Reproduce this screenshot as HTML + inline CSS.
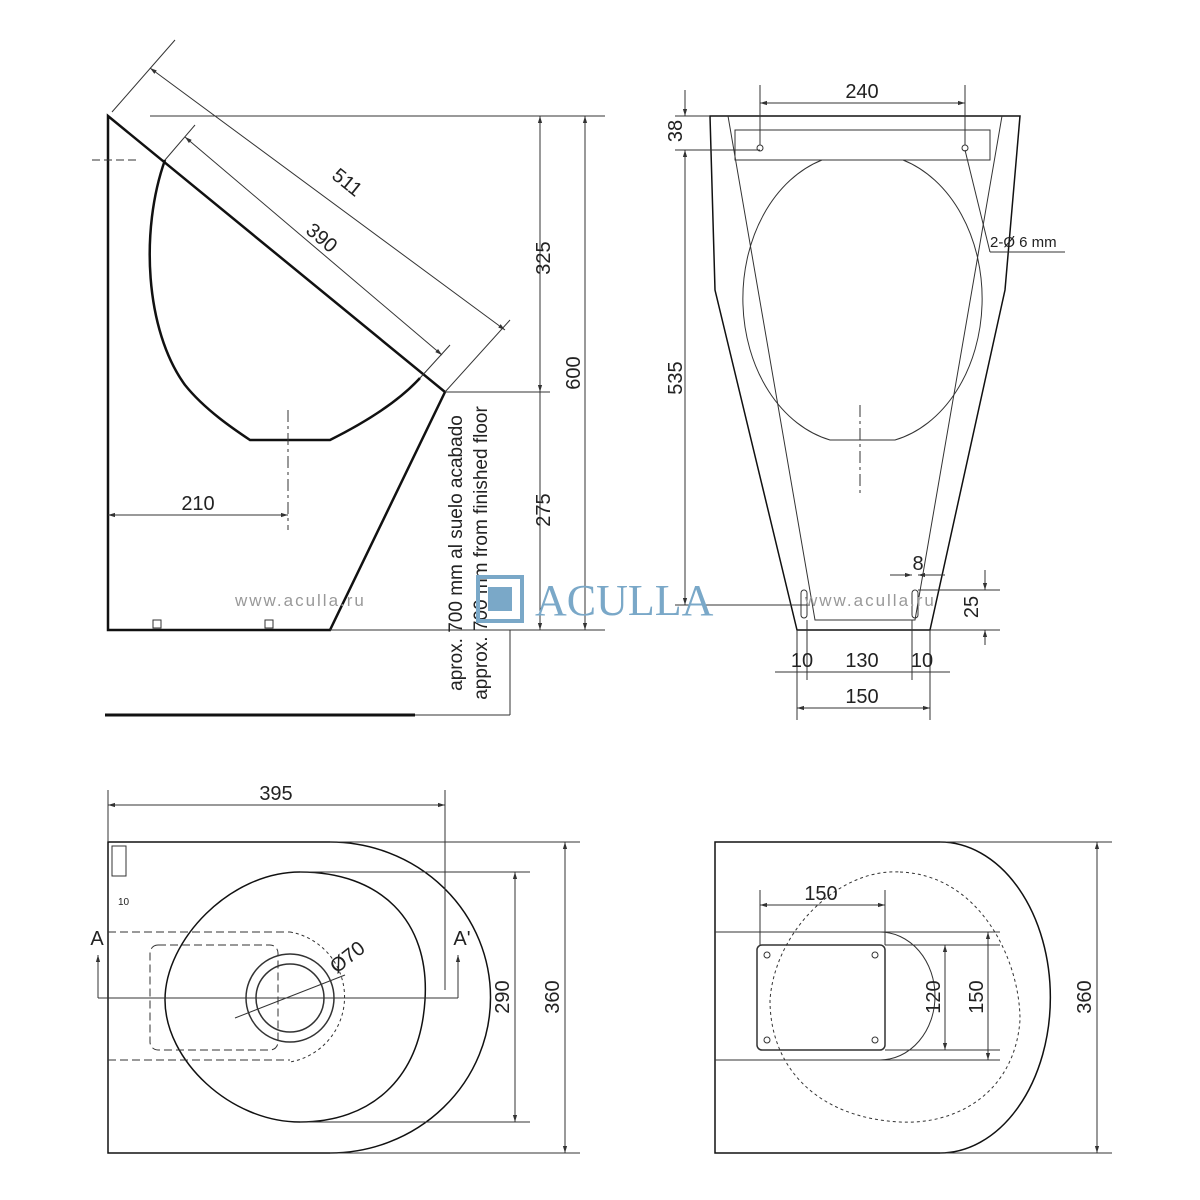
<!DOCTYPE html>
<html><head><meta charset="utf-8"><style>
html,body{margin:0;padding:0;background:#fff;}
svg{display:block;}
text{font-family:"Liberation Sans",sans-serif;fill:#222;}
</style></head><body>
<svg width="1200" height="1200" viewBox="0 0 1200 1200" xmlns="http://www.w3.org/2000/svg">
<defs>
<marker id="ar" viewBox="0 0 10 10" refX="10" refY="5" markerWidth="7" markerHeight="7" orient="auto-start-reverse"><path d="M0,2 L10,5 L0,8 z" fill="#333"/></marker>
</defs>
<g stroke="#333" stroke-width="1" fill="none">
<!-- SIDE VIEW -->
<path d="M108,116 L445,392 L330,630 L108,630 Z" stroke="#111" stroke-width="2.5"/>
<path d="M165,160 C140,230 145,330 185,385 C205,410 235,430 250,440 L330,440 C370,420 400,400 420,378" stroke="#111" stroke-width="2.5"/>
<line x1="92" y1="160" x2="140" y2="160" stroke-dasharray="8,4"/>
<line x1="288" y1="410" x2="288" y2="530" stroke-dasharray="12,4,3,4"/>
<line x1="112" y1="112" x2="175" y2="40"/>
<line x1="445" y1="392" x2="510" y2="320"/>
<line x1="150" y1="68" x2="505" y2="330" marker-start="url(#ar)" marker-end="url(#ar)"/>
<line x1="165" y1="160" x2="195" y2="125"/>
<line x1="420" y1="378" x2="450" y2="345"/>
<line x1="185" y1="137" x2="442" y2="355" marker-start="url(#ar)" marker-end="url(#ar)"/>
<line x1="150" y1="116" x2="605" y2="116"/>
<line x1="445" y1="392" x2="550" y2="392"/>
<line x1="330" y1="630" x2="605" y2="630"/>
<line x1="540" y1="116" x2="540" y2="392" marker-start="url(#ar)" marker-end="url(#ar)"/>
<line x1="540" y1="392" x2="540" y2="630" marker-end="url(#ar)"/>
<line x1="585" y1="116" x2="585" y2="630" marker-start="url(#ar)" marker-end="url(#ar)"/>
<line x1="108" y1="515" x2="288" y2="515" marker-start="url(#ar)" marker-end="url(#ar)"/>
<line x1="105" y1="715" x2="415" y2="715" stroke="#111" stroke-width="3"/>
<line x1="415" y1="715" x2="510" y2="715"/>
<line x1="510" y1="630" x2="510" y2="715"/>
<rect x="153" y="620" width="8" height="8"/><rect x="265" y="620" width="8" height="8"/>
<!-- FRONT VIEW -->
<path d="M710,116 L1020,116 L1005,290 L930,630 L797,630 L715,290 Z" stroke="#111" stroke-width="1.5"/>
<path d="M728,116 L815,620 L915,620 L1002,116"/>
<rect x="735" y="130" width="255" height="30"/>
<path d="M822,160 A112,145 0 0 0 830,440 L895,440 A112,145 0 0 0 903,160"/>
<line x1="860" y1="405" x2="860" y2="495" stroke-dasharray="12,4,3,4"/>
<circle cx="760" cy="148" r="3"/><circle cx="965" cy="148" r="3"/>
<line x1="760" y1="85" x2="760" y2="145"/><line x1="965" y1="85" x2="965" y2="145"/>
<line x1="760" y1="103" x2="965" y2="103" marker-start="url(#ar)" marker-end="url(#ar)"/>
<line x1="675" y1="116" x2="710" y2="116"/>
<line x1="675" y1="150" x2="760" y2="150"/>
<line x1="685" y1="90" x2="685" y2="116" marker-end="url(#ar)"/>
<line x1="685" y1="150" x2="685" y2="605" marker-start="url(#ar)" marker-end="url(#ar)"/>
<line x1="675" y1="605" x2="810" y2="605"/>
<line x1="965" y1="150" x2="990" y2="252"/><line x1="990" y1="252" x2="1065" y2="252"/>
<rect x="801" y="590" width="6" height="28" rx="3"/><rect x="912" y="590" width="6" height="28" rx="3"/>
<line x1="890" y1="575" x2="912" y2="575" marker-end="url(#ar)"/>
<line x1="918" y1="575" x2="945" y2="575" marker-start="url(#ar)"/>
<line x1="918" y1="590" x2="1000" y2="590"/><line x1="930" y1="630" x2="1000" y2="630"/>
<line x1="985" y1="570" x2="985" y2="590" marker-end="url(#ar)"/>
<line x1="985" y1="630" x2="985" y2="645" marker-start="url(#ar)"/>
<line x1="797" y1="630" x2="797" y2="720"/><line x1="807" y1="620" x2="807" y2="680"/>
<line x1="912" y1="620" x2="912" y2="680"/><line x1="930" y1="630" x2="930" y2="720"/>
<line x1="775" y1="672" x2="950" y2="672"/>
<line x1="797" y1="708" x2="930" y2="708" marker-start="url(#ar)" marker-end="url(#ar)"/>
<!-- PLAN LEFT -->
<path d="M108,842 L330,842 A160,155 0 0 1 330,1153 L108,1153 Z" stroke="#111" stroke-width="1.5"/>
<path d="M300,872 C380,872 430,920 425,1000 C420,1080 370,1122 300,1122 C230,1122 165,1060 165,1000 C165,940 230,872 300,872 Z" stroke="#111" stroke-width="1.5"/>
<circle cx="290" cy="998" r="44" stroke-width="1.5"/><circle cx="290" cy="998" r="34" stroke-width="1.5"/>
<rect x="150" y="945" width="128" height="105" rx="8" stroke-dasharray="8,4"/>
<line x1="108" y1="932" x2="290" y2="932" stroke-dasharray="8,4"/>
<line x1="108" y1="1060" x2="290" y2="1060" stroke-dasharray="8,4"/>
<path d="M290,932 A66,66 0 0 1 290,1062" stroke-dasharray="3,3"/>
<line x1="98" y1="998" x2="458" y2="998"/>
<line x1="98" y1="998" x2="98" y2="955" marker-end="url(#ar)"/>
<line x1="458" y1="998" x2="458" y2="955" marker-end="url(#ar)"/>
<line x1="235" y1="1018" x2="345" y2="975"/>
<line x1="108" y1="790" x2="108" y2="842"/><line x1="445" y1="790" x2="445" y2="990"/>
<line x1="108" y1="805" x2="445" y2="805" marker-start="url(#ar)" marker-end="url(#ar)"/>
<line x1="330" y1="842" x2="580" y2="842"/><line x1="330" y1="1153" x2="580" y2="1153"/>
<line x1="300" y1="872" x2="530" y2="872"/><line x1="300" y1="1122" x2="530" y2="1122"/>
<line x1="565" y1="842" x2="565" y2="1153" marker-start="url(#ar)" marker-end="url(#ar)"/>
<line x1="515" y1="872" x2="515" y2="1122" marker-start="url(#ar)" marker-end="url(#ar)"/>
<rect x="112" y="846" width="14" height="30"/>
<!-- PLAN RIGHT -->
<path d="M715,842 L940,842 A110,155 0 0 1 940,1153 L715,1153 Z" stroke="#111" stroke-width="1.5"/>
<path d="M715,932 L880,932 A55,64 0 0 1 880,1060 L715,1060"/>
<rect x="757" y="945" width="128" height="105" rx="5" stroke-width="1.5"/>
<circle cx="767" cy="955" r="3"/><circle cx="875" cy="955" r="3"/><circle cx="767" cy="1040" r="3"/><circle cx="875" cy="1040" r="3"/>
<path d="M900,872 C980,875 1020,960 1020,1020 C1015,1090 960,1125 900,1122 C820,1118 770,1070 770,1000 C775,930 840,868 900,872 Z" stroke-dasharray="3,3"/>
<line x1="760" y1="890" x2="760" y2="945"/><line x1="885" y1="890" x2="885" y2="945"/>
<line x1="760" y1="905" x2="885" y2="905" marker-start="url(#ar)" marker-end="url(#ar)"/>
<line x1="885" y1="945" x2="1000" y2="945"/><line x1="885" y1="1050" x2="1000" y2="1050"/>
<line x1="880" y1="932" x2="1000" y2="932"/><line x1="880" y1="1060" x2="1000" y2="1060"/>
<line x1="945" y1="945" x2="945" y2="1050" marker-start="url(#ar)" marker-end="url(#ar)"/>
<line x1="988" y1="932" x2="988" y2="1060" marker-start="url(#ar)" marker-end="url(#ar)"/>
<line x1="940" y1="842" x2="1112" y2="842"/><line x1="940" y1="1153" x2="1112" y2="1153"/>
<line x1="1097" y1="842" x2="1097" y2="1153" marker-start="url(#ar)" marker-end="url(#ar)"/>
</g>
<g font-size="20">
<text x="328" y="185" transform="rotate(39 340 185)">511</text>
<text x="300" y="245" transform="rotate(40 320 245)">390</text>
<text x="550" y="258" transform="rotate(-90 550 258)" text-anchor="middle">325</text>
<text x="550" y="510" transform="rotate(-90 550 510)" text-anchor="middle">275</text>
<text x="580" y="373" transform="rotate(-90 580 373)" text-anchor="middle">600</text>
<text x="198" y="510" text-anchor="middle">210</text>
<text x="462" y="553" transform="rotate(-90 462 553)" text-anchor="middle" font-size="19">aprox. 700 mm al suelo acabado</text>
<text x="487" y="553" transform="rotate(-90 487 553)" text-anchor="middle" font-size="19">approx. 700 mm from finished floor</text>
<text x="862" y="98" text-anchor="middle">240</text>
<text x="682" y="131" transform="rotate(-90 682 131)" text-anchor="middle">38</text>
<text x="682" y="378" transform="rotate(-90 682 378)" text-anchor="middle">535</text>
<text x="990" y="247" font-size="15">2-Ø 6 mm</text>
<text x="918" y="570" text-anchor="middle">8</text>
<text x="978" y="607" transform="rotate(-90 978 607)" text-anchor="middle">25</text>
<text x="802" y="667" text-anchor="middle">10</text>
<text x="862" y="667" text-anchor="middle">130</text>
<text x="922" y="667" text-anchor="middle">10</text>
<text x="862" y="703" text-anchor="middle">150</text>
<text x="276" y="800" text-anchor="middle">395</text>
<text x="97" y="945" text-anchor="middle">A</text>
<text x="462" y="945" text-anchor="middle">A'</text>
<text x="350" y="958" transform="rotate(-38 357 958)" text-anchor="middle">Ø70</text>
<text x="509" y="997" transform="rotate(-90 509 997)" text-anchor="middle">290</text>
<text x="559" y="997" transform="rotate(-90 559 997)" text-anchor="middle">360</text>
<text x="821" y="900" text-anchor="middle">150</text>
<text x="940" y="997" transform="rotate(-90 940 997)" text-anchor="middle">120</text>
<text x="983" y="997" transform="rotate(-90 983 997)" text-anchor="middle">150</text>
<text x="1091" y="997" transform="rotate(-90 1091 997)" text-anchor="middle">360</text>
<text x="118" y="905" font-size="10">10</text>
</g>
<!-- watermark -->
<g>
<text x="235" y="606" font-size="17" style="fill:#999" letter-spacing="2">www.aculla.ru</text>
<text x="805" y="606" font-size="17" style="fill:#999" letter-spacing="2">www.aculla.ru</text>
<rect x="478" y="577" width="44" height="44" fill="none" stroke="#7aa8c8" stroke-width="4"/>
<rect x="488" y="587" width="24" height="24" fill="#7aa8c8"/>
<text x="535" y="615" font-size="44" style="fill:#7aa8c8;font-family:'Liberation Serif',serif">ACULLA</text>
</g>
</svg>
</body></html>
